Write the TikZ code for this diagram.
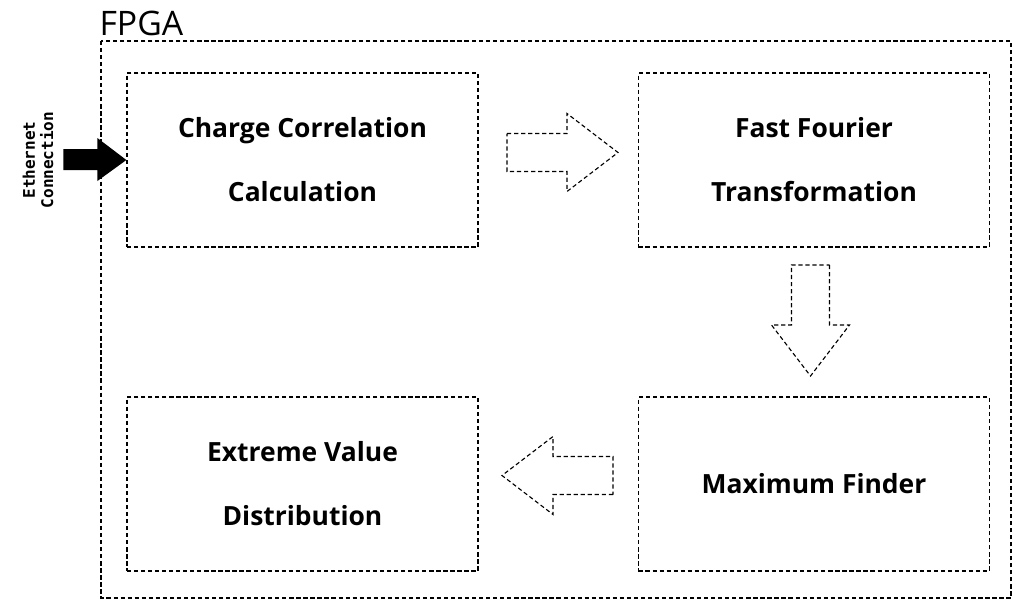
\documentclass[tikz,border=0pt]{standalone}
\usepackage{fontspec}
\setmainfont{Open Sans}
\newfontfamily\labelfont{Open Sans}
\newfontfamily\sidefont{DejaVu Sans Mono}
\newcommand{\hollowarrow}[2]{\draw[hollow, shift={(#1)}, rotate=#2] (0,-19) -- (60,-19) -- (60,-39) -- (111,0) -- (60,39) -- (60,19) -- (0,19) -- cycle;}

\begin{document}
\begin{tikzpicture}[x = 0.025cm, y = -0.025cm, line width = 0.8pt,
	box/.style = {draw = black, dash pattern = on 3pt off 2pt, minimum width = 8.775cm, minimum height = 4.35cm, align = center, font = \labelfont\bfseries\fontsize{18.8}{45.5}\selectfont},
	hollow/.style = {draw = black, dash pattern = on 3pt off 2pt, line join = miter}]

	\useasboundingbox (0,0) rectangle (1020,600);

	% outer FPGA frame
	\draw[dash pattern = on 3pt off 2pt] (101,41) rectangle (1011,598);
	\node (FPGA) at (99,35) [anchor = base west, inner sep = 0, font = \fontsize{24}{28}\selectfont] {FPGA};

	\node (CC)  at (302.5,160) [box] {Charge Correlation \\ Calculation};
	\node (FFT) at (814,160)   [box] {Fast Fourier \\ Transformation};
	\node (EVD) at (302.5,484) [box] {Extreme Value \\ Distribution};
	\node (MF)  at (814,484)   [box] {Maximum Finder};

	% hollow flow arrows between the blocks
	\coordinate (A1) at (507,152.5);
	\coordinate (A2) at (810.5,265);
	\coordinate (A3) at (613,475.5);
	\hollowarrow{A1}{0}
	\hollowarrow{A2}{-90}
	\hollowarrow{A3}{180}

	% input
	\fill (CC.west) -- ++(-29,-22) -- ++(0,11) -- ++(-34,0) -- ++(0,21) -- ++(34,0) -- ++(0,11) -- cycle;
	\node (ETH) at (38,160) [rotate = 90, align = center, inner sep = 0, font = \sidefont\bfseries\fontsize{11.4}{13}\selectfont] {Ethernet \\ Connection};

\end{tikzpicture}
\end{document}
